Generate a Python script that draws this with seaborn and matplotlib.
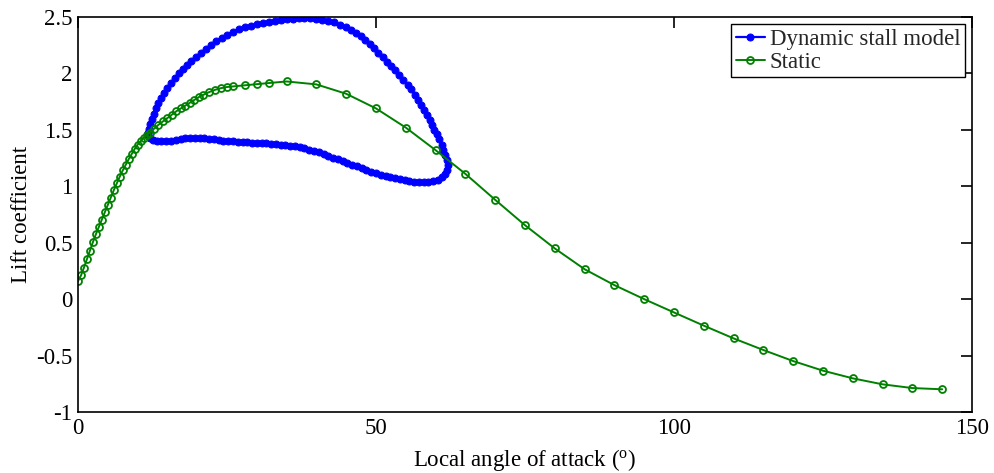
import matplotlib
matplotlib.use("Agg")
import matplotlib.pyplot as plt
import seaborn as sns
import pandas as pd

# ---- Static lift curve ----
static_alpha = [0.0, 0.5, 1.0, 1.5, 2.0, 2.5, 3.0, 3.5, 4.0, 4.5, 5.0, 5.5, 6.0, 6.5, 7.0,
                7.5, 8.0, 8.5, 9.0, 9.5, 10.0, 10.5, 11.0, 11.5, 12.0, 12.75, 13.5, 14.25,
                15.0, 15.75, 16.5, 17.25, 18.0, 18.75, 19.5, 20.25, 21.0, 22.0, 23.0, 24.0,
                25.0, 26.0, 28.0, 30.0, 32.0, 35.0, 40.0, 45.0, 50.0, 55.0, 60.0, 65.0,
                70.0, 75.0, 80.0, 85.0, 90.0, 95.0, 100.0, 105.0, 110.0, 115.0, 120.0,
                125.0, 130.0, 135.0, 140.0, 145.0]
static_cl = [0.16, 0.21, 0.28, 0.355, 0.43, 0.505, 0.575, 0.64, 0.705, 0.77, 0.835, 0.90,
             0.965, 1.025, 1.085, 1.14, 1.19, 1.24, 1.285, 1.33, 1.37, 1.40, 1.43, 1.455,
             1.475, 1.51, 1.545, 1.575, 1.605, 1.635, 1.665, 1.69, 1.715, 1.74, 1.765,
             1.79, 1.81, 1.835, 1.855, 1.87, 1.88, 1.885, 1.895, 1.905, 1.915, 1.929,
             1.903, 1.82, 1.69, 1.52, 1.32, 1.11, 0.88, 0.655, 0.449, 0.265, 0.124, 0.0,
             -0.118, -0.235, -0.348, -0.451, -0.549, -0.634, -0.702, -0.755, -0.788, -0.799]

# ---- Dynamic stall hysteresis loop ----
dyn_alpha = [11.8, 11.9, 12.1, 12.4, 12.7, 13.1, 13.5, 14.0, 14.5, 15.0, 15.6, 16.2, 16.9,
             17.6, 18.3, 19.0, 19.8, 20.6, 21.4, 22.3, 23.2, 24.1, 25.0, 26.0, 27.0, 28.0,
             29.0, 30.0, 31.0, 32.0, 33.0, 34.0, 35.0, 36.0, 37.0, 38.0, 39.0, 40.0, 41.0,
             42.0, 43.0, 44.0, 45.0, 45.8, 46.6, 47.4, 48.2, 49.0, 49.7, 50.4, 51.1, 51.8,
             52.5, 53.2, 53.9, 54.6, 55.3, 55.9, 56.5, 57.1, 57.6, 58.1, 58.6, 59.0, 59.4,
             59.8, 60.2, 60.6, 61.0, 61.3, 61.6, 61.9, 62.0, 61.9, 61.6, 61.1, 60.4, 59.6,
             58.8, 58.0, 57.2, 56.4, 55.6, 54.8, 54.0, 53.2, 52.4, 51.6, 50.8, 50.0, 49.2,
             48.4, 47.6, 46.8, 46.0, 45.2, 44.4, 43.6, 42.8, 42.0, 41.2, 40.4, 39.6, 38.8,
             38.0, 37.2, 36.4, 35.6, 34.8, 34.0, 33.2, 32.4, 31.6, 30.8, 30.0, 29.2, 28.4,
             27.6, 26.8, 26.0, 25.2, 24.4, 23.6, 22.8, 22.0, 21.2, 20.4, 19.6, 18.8, 18.0,
             17.2, 16.4, 15.6, 14.8, 14.0, 13.2, 12.5, 12.0, 11.8, 11.8]
dyn_cl = [1.47, 1.51, 1.55, 1.60, 1.645, 1.69, 1.735, 1.78, 1.825, 1.87, 1.915, 1.96, 2.00,
          2.04, 2.075, 2.11, 2.145, 2.18, 2.215, 2.25, 2.285, 2.315, 2.345, 2.37, 2.39, 2.408,
          2.424, 2.438, 2.45, 2.46, 2.468, 2.475, 2.48, 2.485, 2.489, 2.492, 2.491, 2.486,
          2.477, 2.466, 2.452, 2.433, 2.41, 2.388, 2.36, 2.33, 2.295, 2.26, 2.225, 2.185,
          2.145, 2.105, 2.068, 2.03, 1.99, 1.945, 1.90, 1.86, 1.812, 1.765, 1.72, 1.68,
          1.635, 1.59, 1.545, 1.50, 1.46, 1.415, 1.37, 1.325, 1.28, 1.235, 1.19, 1.145,
          1.11, 1.08, 1.06, 1.048, 1.04, 1.037, 1.038, 1.042, 1.048, 1.055, 1.063, 1.072,
          1.082, 1.092, 1.103, 1.116, 1.13, 1.145, 1.16, 1.176, 1.192, 1.207, 1.222, 1.238,
          1.254, 1.27, 1.285, 1.30, 1.313, 1.325, 1.336, 1.346, 1.355, 1.361, 1.366, 1.37,
          1.373, 1.377, 1.381, 1.384, 1.387, 1.388, 1.39, 1.393, 1.395, 1.398, 1.40, 1.405,
          1.41, 1.415, 1.42, 1.425, 1.43, 1.428, 1.426, 1.425, 1.42, 1.412, 1.405, 1.40,
          1.40, 1.402, 1.41, 1.425, 1.445, 1.47]

y_ticks = [-1, -0.5, 0, 0.5, 1, 1.5, 2, 2.5]
y_tick_labels = ["-1", "-0.5", "0", "0.5", "1", "1.5", "2", "2.5"]
x_ticks = [0, 50, 100, 150]
x_tick_labels = ["0", "50", "100", "150"]

sns.set_theme(style="white")
plt.rcParams["font.family"] = ["Liberation Serif", "DejaVu Serif"]
plt.rcParams["mathtext.fontset"] = "custom"
plt.rcParams["mathtext.rm"] = "Liberation Serif"
plt.rcParams["mathtext.it"] = "Liberation Serif:italic"
plt.rcParams["axes.unicode_minus"] = False

FS = 16.5
fig = plt.figure(figsize=(9.95, 4.73), dpi=100)
ax = fig.add_axes([0.0784, 0.129, 0.8985, 0.835])

dyn_df = pd.DataFrame({"alpha": dyn_alpha, "cl": dyn_cl})
st_df = pd.DataFrame({"alpha": static_alpha, "cl": static_cl})

sns.lineplot(data=dyn_df, x="alpha", y="cl", sort=False, estimator=None, ax=ax,
             color="#0000FF", linewidth=1.6, marker=".", markersize=10,
             markeredgecolor="#0000FF", markerfacecolor="#0000FF",
             label="Dynamic stall model")
sns.lineplot(data=st_df, x="alpha", y="cl", sort=False, estimator=None, ax=ax,
             color="#008000", linewidth=1.4, marker="o", markersize=5,
             markerfacecolor="none", markeredgecolor="#008000", markeredgewidth=1.3,
             label="Static")

ax.set_xlim(0, 150)
ax.set_ylim(-1, 2.5)
ax.set_xticks(x_ticks)
ax.set_xticklabels(x_tick_labels)
ax.set_yticks(y_ticks)
ax.set_yticklabels(y_tick_labels)
ax.tick_params(axis="both", which="both", direction="in", length=8, width=1.2,
               top=True, right=True, labelsize=FS, colors="black", pad=4)
for s in ax.spines.values():
    s.set_color("black")
    s.set_linewidth(1.2)

ax.set_xlabel(r"Local angle of attack ($^{\rm o}$)", fontsize=FS, color="black", labelpad=6)
ax.set_ylabel("Lift coefficient", fontsize=FS, color="black", labelpad=3)

leg = ax.legend(loc="upper right", fontsize=FS, frameon=True, fancybox=False,
                edgecolor="black", framealpha=1, handlelength=1.3, handletextpad=0.2,
                borderaxespad=0.3, borderpad=0.2, labelspacing=0.1)
leg.get_frame().set_linewidth(1.0)

fig.savefig("out.png", dpi=100)
